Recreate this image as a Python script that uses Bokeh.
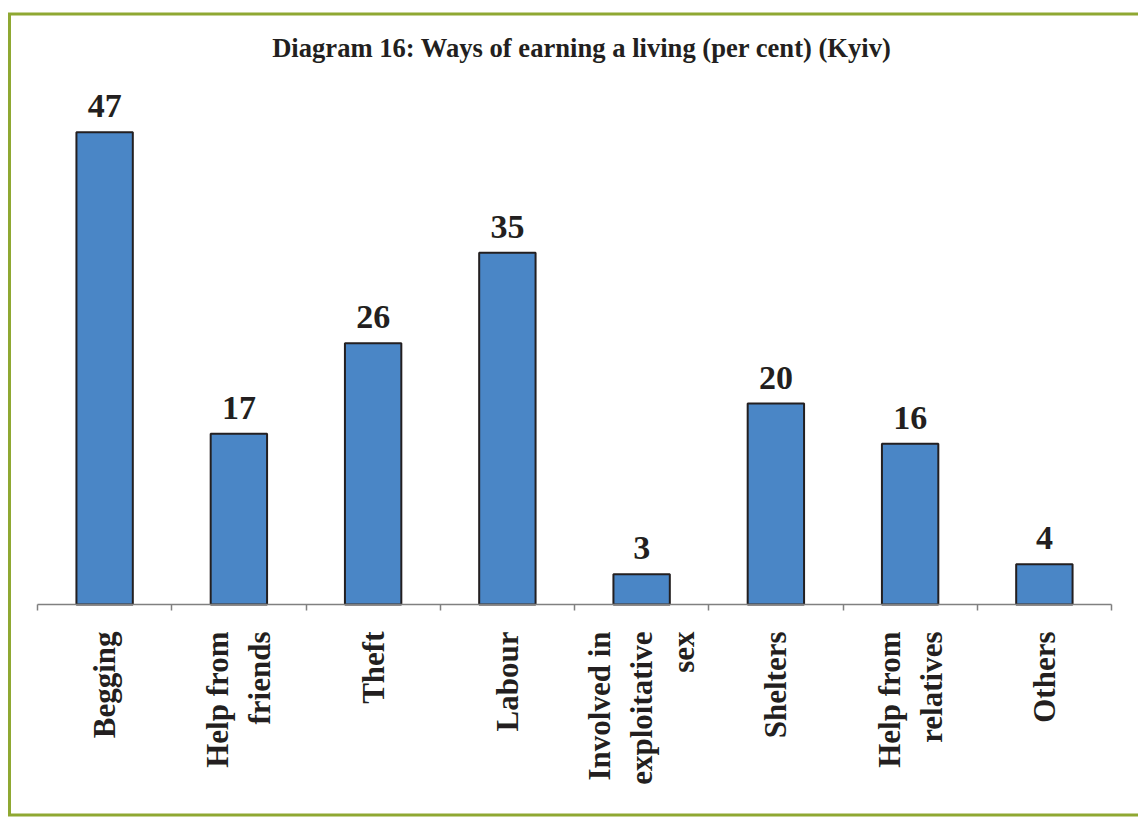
import math
from bokeh.plotting import figure
from bokeh.models import (ColumnDataSource, Range1d, FixedTicker,
                          LabelSet, Label)
from bokeh.embed import file_html
from bokeh.resources import INLINE

categories = ["Begging", "Help from friends", "Theft", "Labour",
              "Involved in exploitative sex", "Shelters",
              "Help from relatives", "Others"]
tick_labels = ["Begging", "Help from\nfriends", "Theft", "Labour",
               "Involved in\nexploitative\nsex", "Shelters",
               "Help from\nrelatives", "Others"]
values = [47, 17, 26, 35, 3, 20, 16, 4]
title_text = "Diagram 16: Ways of earning a living (per cent) (Kyiv)"

# ---- layout (pixels) ----
W, H = 1138, 817
AX_LEFT, AX_RIGHT, AX_Y = 37, 1111, 604
PX_PER_UNIT = 10.05
n = len(categories)
px_per_cat = (AX_RIGHT - AX_LEFT) / n

x_start = -AX_LEFT / px_per_cat
x_end = n + (W - AX_RIGHT) / px_per_cat
y_end = AX_Y / PX_PER_UNIT
y_start = -(H - AX_Y) / PX_PER_UNIT

def dx(px):  # page x -> data x
    return x_start + px / px_per_cat

def dy(py):  # page y -> data y
    return y_end - py / PX_PER_UNIT

positions = [i + 0.5 for i in range(n)]
src = ColumnDataSource(dict(x=positions, v=values,
                            lbl=[str(v) for v in values]))

p = figure(width=W, height=H, output_backend="svg", toolbar_location=None,
           x_range=Range1d(x_start, x_end), y_range=Range1d(y_start, y_end),
           min_border=0, min_border_left=0, min_border_right=0,
           min_border_top=0, min_border_bottom=0)

# decorative frame (open on the right, as in the original page crop)
p.line(x=[dx(W + 20), dx(9), dx(9), dx(W + 20)],
       y=[dy(13.5), dy(13.5), dy(814.5), dy(814.5)],
       line_color="#8fa832", line_width=3, line_join="miter")

p.vbar(x="x", top="v", width=0.42, bottom=0, source=src,
       fill_color="#4a86c6", line_color="#231f20", line_width=2)

labels = LabelSet(x="x", y="v", text="lbl", source=src, text_align="center",
                  text_baseline="alphabetic", y_offset=15,
                  text_font="Liberation Serif", text_font_style="bold",
                  text_font_size="34px", text_color="#231f20")
p.add_layout(labels)

title = Label(x=dx(581.5), y=dy(47), text=title_text, text_align="center",
              text_baseline="alphabetic", text_font="Liberation Serif",
              text_font_style="bold", text_font_size="26.6px",
              text_color="#231f20")
p.add_layout(title)

p.grid.visible = False
p.yaxis.visible = False
p.outline_line_color = None

ax = p.xaxis[0]
ax.fixed_location = 0
ax.bounds = (0, n)
ax.ticker = FixedTicker(ticks=positions, minor_ticks=list(range(n + 1)))
ax.major_label_overrides = {pos: lab for pos, lab in zip(positions, tick_labels)}
ax.major_label_orientation = math.pi / 2
ax.major_tick_line_color = None
ax.major_tick_in = 0
ax.major_tick_out = 0
ax.minor_tick_in = 0
ax.minor_tick_out = 6
ax.minor_tick_line_color = "#808080"
ax.minor_tick_line_width = 1.5
ax.axis_line_color = "#808080"
ax.axis_line_width = 1.5
ax.major_label_standoff = 21
ax.major_label_text_font = "Liberation Serif"
ax.major_label_text_font_style = "bold"
ax.major_label_text_font_size = "31px"
ax.major_label_text_color = "#231f20"

open("out.html", "w").write(file_html(p, INLINE))
